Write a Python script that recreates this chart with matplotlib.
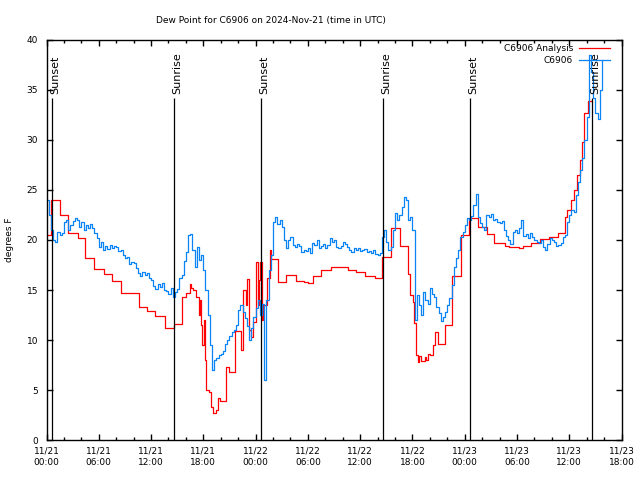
import pandas as pd
import matplotlib
matplotlib.use("Agg")
import matplotlib.pyplot as plt
import matplotlib.dates as mdates

# observed dew point, every 15 min from 11/21 00:00
obs_vals = [
    24.0, 22.5, 21.0, 20.0, 19.8, 20.8, 20.5, 20.7,
    21.8, 22.0, 21.0, 21.5, 21.9, 22.2, 22.0, 21.3,
    21.8, 21.0, 21.5, 21.2, 21.6, 21.2, 20.7, 20.2,
    19.3, 19.8, 19.0, 19.4, 19.1, 19.5, 19.2, 19.4,
    19.3, 18.9, 19.0, 18.5, 18.2, 18.3, 17.6, 17.8,
    17.7, 17.2, 16.7, 16.4, 16.8, 16.5, 16.7, 16.2,
    16.0, 15.4, 15.1, 15.6, 15.3, 15.7, 15.0, 14.9,
    14.6, 15.2, 14.3, 14.8, 15.1, 16.2, 16.5, 17.9,
    18.8, 20.5, 20.6, 19.0, 17.3, 19.3, 18.0, 18.5,
    17.0, 15.0, 12.5, 9.5, 7.0, 8.0, 8.2, 8.5,
    8.6, 8.9, 9.6, 10.0, 10.4, 10.8, 11.0, 11.5,
    13.0, 13.5, 12.8, 12.2, 11.4, 10.0, 11.2, 12.3,
    13.2, 14.0, 12.5, 13.6, 6.0, 14.0, 17.0, 18.5,
    21.8, 22.3, 21.6, 22.0, 21.3, 20.0, 19.2, 20.0,
    20.3, 19.5, 19.3, 19.6, 19.4, 18.8, 19.0, 18.9,
    19.2, 18.7, 19.7, 19.5, 20.0, 19.2, 19.4, 19.6,
    19.2, 19.5, 20.2, 19.8, 20.0, 19.3, 19.2, 19.4,
    19.8, 19.6, 19.3, 19.0, 18.8, 19.2, 19.0, 19.2,
    18.9, 19.0, 19.1, 18.8, 18.9, 18.7, 19.0, 18.6,
    18.5, 18.7, 20.3, 21.0, 19.8, 19.0, 19.3, 21.0,
    22.7, 22.0, 22.5, 23.3, 24.3, 24.0, 22.0, 22.3,
    21.0, 12.0, 14.5, 13.5, 12.5, 14.8, 14.0, 13.6,
    15.2, 14.6, 14.3, 13.3, 12.7, 11.9, 12.3, 12.8,
    13.5, 14.2, 15.5, 17.3, 18.2, 19.0, 20.3, 20.8,
    21.5, 22.2, 22.0, 22.4, 23.5, 24.6, 22.3, 21.7,
    21.3, 21.0, 22.5, 22.3, 22.6, 22.0, 22.1, 21.8,
    21.7, 21.9, 21.0, 20.4, 20.0, 19.6, 20.8, 21.0,
    20.7, 21.2, 22.0, 20.4, 20.6, 20.2, 20.7, 20.3,
    20.0, 19.8, 19.7, 20.0, 19.3, 19.0, 19.6, 20.2,
    20.0, 19.8, 19.4, 19.5, 19.7, 20.3, 20.5, 21.8,
    22.5, 23.0, 22.8, 24.5, 25.8, 27.0, 28.2, 30.0,
    32.3, 38.5, 36.8, 34.2, 32.7, 32.1, 35.0, 38.0,
]

# analysis: hours after 11/21 00:00 where the value changes
ana_hours = [
    0.0, 0.57, 1.57, 2.5, 3.6, 4.45, 5.5, 6.55, 7.55, 8.57,
    10.6, 11.55, 12.5, 13.6, 14.65, 15.55, 16.0, 16.45, 16.6, 16.8,
    17.2, 17.45, 17.6, 17.75, 17.9, 18.05, 18.2, 18.3, 18.6, 18.9,
    19.1, 19.5, 19.7, 19.9, 20.55, 20.9, 21.6, 22.35, 22.6, 22.9,
    23.0, 23.3, 23.45, 23.65, 24.1, 24.25, 24.4, 24.55, 24.7, 24.9,
    25.3, 25.6, 25.8, 26.55, 27.5, 28.6, 29.6, 30.0, 30.6, 31.5,
    32.7, 34.6, 35.5, 36.6, 37.65, 38.55, 39.55, 40.6, 41.5, 41.75,
    42.05, 42.2, 42.45, 42.6, 42.75, 43.0, 43.4, 43.6, 43.8, 44.0,
    44.35, 44.6, 44.9, 45.7, 46.6, 47.6, 48.55, 49.5, 50.6, 51.4,
    52.6, 53.1, 54.2, 54.7, 55.6, 56.6, 57.7, 58.7, 59.55, 59.8,
    60.15, 60.5, 60.9, 61.25, 61.5, 61.75, 62.1, 62.5,
]
ana_vals = [
    20.5, 24.0, 22.5, 20.7, 20.2, 18.2, 17.1, 16.6, 15.9, 14.7,
    13.3, 12.9, 12.4, 11.2, 11.6, 14.3, 14.7, 15.6, 15.2, 15.0,
    14.3, 12.5, 14.0, 11.5, 9.5, 12.0, 8.0, 5.0, 4.8, 3.3,
    2.7, 3.0, 4.2, 3.9, 7.3, 6.8, 10.9, 9.0, 15.0, 13.5,
    16.1, 11.0, 10.3, 11.8, 17.8, 13.5, 16.0, 17.8, 12.0, 13.5,
    16.2, 19.0, 18.1, 15.8, 16.5, 15.9, 15.8, 15.7, 16.4, 17.0,
    17.3, 17.0, 16.8, 16.4, 16.2, 18.3, 21.2, 19.4, 16.6, 14.5,
    13.8, 11.7, 8.5, 7.8, 8.4, 7.9, 8.3, 8.0, 8.6, 8.5,
    9.5, 10.8, 9.6, 11.5, 16.4, 20.5, 22.2, 21.3, 20.6, 19.7,
    19.4, 19.3, 19.2, 19.4, 19.7, 20.1, 20.3, 20.7, 22.3, 23.0,
    24.0, 25.0, 26.5, 28.0, 29.8, 32.7, 33.9, 33.9,
]

sun_hours = [0.67, 14.67, 24.66, 38.66, 48.65, 62.65]
sun_labels = ["Sunset", "Sunrise", "Sunset", "Sunrise", "Sunset", "Sunrise"]

start = pd.Timestamp("2024-11-21 00:00")
obs_times = pd.date_range(start, periods=len(obs_vals), freq="15min")
ana_times = start + pd.to_timedelta(ana_hours, unit="h")
sun_times = start + pd.to_timedelta(sun_hours, unit="h")

plt.rcParams["font.family"] = "DejaVu Sans"
fs = 6.5

fig = plt.figure(figsize=(6.4, 4.8), dpi=100)
ax = fig.add_axes([46.5 / 640, 40 / 480, 575 / 640, 400 / 480])

ax.plot(ana_times, ana_vals, drawstyle="steps-post", color="#ff0000", lw=0.9, label="C6906 Analysis")
ax.plot(obs_times, obs_vals, drawstyle="steps-post", color="#0a84f5", lw=0.9, label="C6906")

ax.vlines(sun_times, 0, 34.2, color="black", lw=0.9)
for t, lab in zip(sun_times, sun_labels):
    ax.annotate(lab, (t, 34.6), xytext=(2, 0), textcoords="offset points",
                rotation=90, ha="center", va="bottom", fontsize=8)

ax.set_xlim(start, start + pd.Timedelta(hours=66))
ax.set_ylim(0, 40)
ax.set_yticks(range(0, 41, 5))
ax.xaxis.set_major_locator(mdates.HourLocator(byhour=range(0, 24, 6)))
ax.xaxis.set_minor_locator(mdates.HourLocator(byhour=range(0, 24, 2)))
ax.xaxis.set_major_formatter(mdates.DateFormatter("%m/%d\n%H:%M"))
ax.tick_params(which="both", direction="in", top=True, right=True, labelsize=fs, width=1)
ax.tick_params(which="major", length=4)
ax.tick_params(which="minor", length=2.5)
ax.tick_params(axis="y", pad=6)
ax.tick_params(axis="x", pad=5)
for lab in ax.get_xticklabels():
    lab.set_linespacing(1.35)
for s in ax.spines.values():
    s.set_linewidth(1)

ax.legend(loc="upper right", bbox_to_anchor=(1 - 11.5 / 575, 1 - 4 / 400), borderaxespad=0,
          borderpad=0, frameon=False, markerfirst=False, fontsize=fs, handlelength=3.4,
          handletextpad=0.7, labelspacing=0.35)

fig.text(271 / 640, 1 - 20 / 480, "Dew Point for C6906 on 2024-Nov-21 (time in UTC)",
         ha="center", va="center", fontsize=fs)
fig.text(10 / 640, 0.5, "degrees F", rotation=90, ha="center", va="center", fontsize=fs)

fig.savefig("out.png", dpi=100)
